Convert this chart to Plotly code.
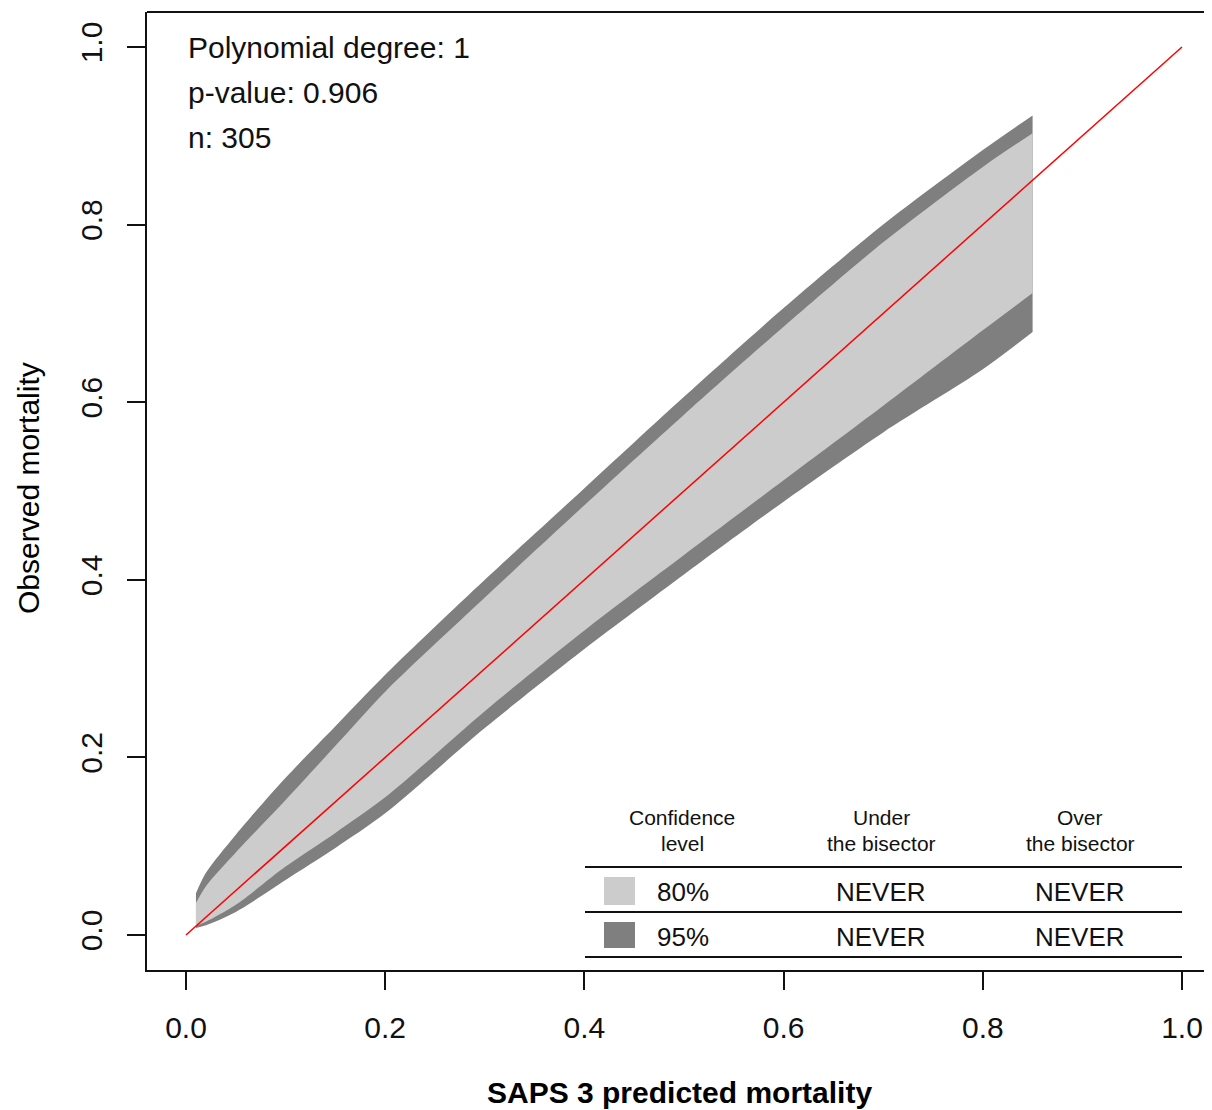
import plotly.graph_objects as go

# ---- data ----
belt_x   = [0.01, 0.02, 0.05, 0.10, 0.15, 0.20, 0.30, 0.40, 0.50, 0.60, 0.70, 0.80, 0.85]
upper95  = [0.047, 0.070, 0.113, 0.177, 0.235, 0.293, 0.400, 0.503, 0.606, 0.706, 0.800, 0.884, 0.923]
upper80  = [0.036, 0.055, 0.093, 0.152, 0.213, 0.274, 0.380, 0.484, 0.586, 0.685, 0.780, 0.865, 0.903]
lower80  = [0.011, 0.015, 0.034, 0.077, 0.115, 0.155, 0.252, 0.343, 0.428, 0.512, 0.596, 0.681, 0.723]
lower95  = [0.008, 0.011, 0.026, 0.062, 0.098, 0.137, 0.233, 0.322, 0.406, 0.488, 0.566, 0.637, 0.679]
bisector = [0.0, 1.0]
tick_vals = [0.0, 0.2, 0.4, 0.6, 0.8, 1.0]
tick_text = ["0.0", "0.2", "0.4", "0.6", "0.8", "1.0"]
info_lines = ["Polynomial degree: 1", "p-value: 0.906", "n: 305"]
conf_levels = ["80%", "95%"]
under_bis = ["NEVER", "NEVER"]
over_bis = ["NEVER", "NEVER"]

LIGHT = "#cccccc"
DARK = "#7f7f7f"
FONT = "Liberation Sans, Arial, sans-serif"

fig = go.Figure()
for lo, hi, col in [(lower95, upper95, DARK), (lower80, upper80, LIGHT)]:
    fig.add_trace(go.Scatter(
        x=belt_x, y=lo, mode="lines", line=dict(width=0, shape="spline", smoothing=0.8),
        hoverinfo="skip", showlegend=False))
    fig.add_trace(go.Scatter(
        x=belt_x, y=hi, mode="lines", fill="tonexty", fillcolor=col,
        line=dict(width=0, shape="spline", smoothing=0.8),
        hoverinfo="skip", showlegend=False))
fig.add_trace(go.Scatter(
    x=bisector, y=bisector, mode="lines",
    line=dict(color="#ff0000", width=1.5), hoverinfo="skip", showlegend=False))

# pixel helpers (window pixels of the reference) used only for placing text/shapes
def dx(px):
    return (px - 186) / 996.0

def dy(py):
    return (935 - py) / 888.0

ann = []
for i, t in enumerate(info_lines):
    ann.append(dict(x=dx(186), y=dy(47 + i * 45), xref="x", yref="y", text=t,
                    showarrow=False, xanchor="left", yanchor="middle",
                    font=dict(size=30, color="#111111", family=FONT)))

heads = [("Confidence", "level", 682), ("Under", "the bisector", 881), ("Over", "the bisector", 1080)]
for a, b, cx in heads:
    ann.append(dict(x=dx(cx), y=dy(817), xref="x", yref="y", text=a, showarrow=False,
                    xanchor="center", yanchor="middle", font=dict(size=21, color="#111111", family=FONT)))
    ann.append(dict(x=dx(cx), y=dy(843), xref="x", yref="y", text=b, showarrow=False,
                    xanchor="center", yanchor="middle", font=dict(size=21, color="#111111", family=FONT)))

row_y = [892, 937]
for i in range(2):
    ann.append(dict(x=dx(683), y=dy(row_y[i]), xref="x", yref="y", text=conf_levels[i], showarrow=False,
                    xanchor="center", yanchor="middle", font=dict(size=26, color="#111111", family=FONT)))
    ann.append(dict(x=dx(881), y=dy(row_y[i]), xref="x", yref="y", text=under_bis[i], showarrow=False,
                    xanchor="center", yanchor="middle", font=dict(size=26, color="#111111", family=FONT)))
    ann.append(dict(x=dx(1080), y=dy(row_y[i]), xref="x", yref="y", text=over_bis[i], showarrow=False,
                    xanchor="center", yanchor="middle", font=dict(size=26, color="#111111", family=FONT)))

ann.append(dict(x=0.5, y=(970 - 1092) / 958.0, xref="paper", yref="paper",
                text="<b>SAPS 3 predicted mortality</b>", showarrow=False,
                xanchor="center", yanchor="middle", font=dict(size=30, color="#000000", family=FONT)))
ann.append(dict(x=(28 - 147) / 1065.0, y=(970 - 488) / 958.0, xref="paper", yref="paper",
                text="Observed mortality", showarrow=False, textangle=-90,
                xanchor="center", yanchor="middle", font=dict(size=30, color="#000000", family=FONT)))

shapes = []
for py in [867, 912, 957]:
    shapes.append(dict(type="line", xref="x", yref="y", x0=dx(585), x1=dx(1182), y0=dy(py), y1=dy(py),
                       line=dict(color="#111111", width=2)))
shapes.append(dict(type="rect", xref="x", yref="y", x0=dx(604), x1=dx(635), y0=dy(905), y1=dy(877),
                   fillcolor=LIGHT, line=dict(width=0)))
shapes.append(dict(type="rect", xref="x", yref="y", x0=dx(604), x1=dx(635), y0=dy(948), y1=dy(922),
                   fillcolor=DARK, line=dict(width=0)))
shapes.append(dict(type="line", xref="paper", yref="paper", x0=0, x1=1, y0=1, y1=1,
                   line=dict(color="#111111", width=2)))

# the page body has an 8px margin, so the figure is 8px smaller and margins shifted
fig.update_layout(
    width=1204, height=1102,
    margin=dict(l=139, r=0, t=4, b=140),
    paper_bgcolor="white", plot_bgcolor="white",
    showlegend=False,
    annotations=ann, shapes=shapes,
    xaxis=dict(range=[dx(147), dx(1212)], tickvals=tick_vals, ticktext=tick_text,
               showgrid=False, zeroline=False, showline=True, linecolor="#111111", linewidth=2,
               ticks="outside", ticklen=18, tickwidth=2, tickcolor="#111111",
               tickfont=dict(size=30, color="#111111", family=FONT), ticklabelstandoff=12),
    yaxis=dict(range=[dy(970), dy(12)], tickvals=tick_vals, ticktext=tick_text,
               showgrid=False, zeroline=False, showline=True, linecolor="#111111", linewidth=2,
               ticks="outside", ticklen=18, tickwidth=2, tickcolor="#111111", tickangle=-90,
               tickfont=dict(size=30, color="#111111", family=FONT), ticklabelstandoff=13),
)

fig.write_html("out.html")
